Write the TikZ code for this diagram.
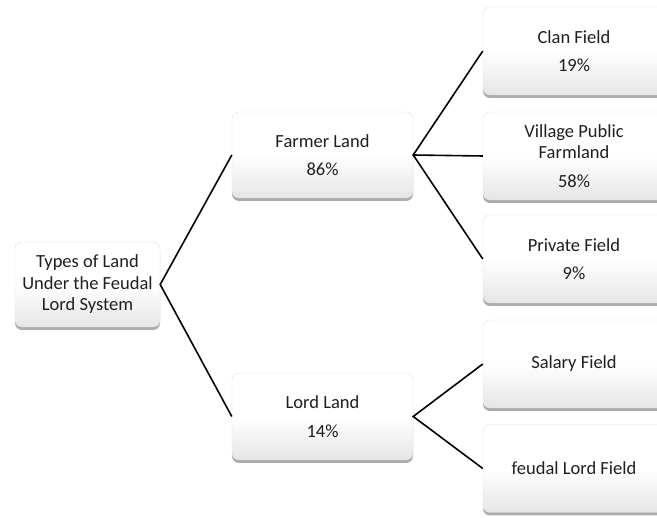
\documentclass[tikz,border=0pt]{standalone}
\usepackage{fontspec}
\setmainfont{Carlito}
\usetikzlibrary{shadows}
\begin{document}
\begin{tikzpicture}[x=1pt,y=-1pt,
  box/.style={rounded corners=7pt, draw=black!12, line width=0.4pt,
    top color=white, bottom color=black!10, middle color=white,
    drop shadow={shadow xshift=0pt, shadow yshift=-3pt, opacity=0.5, fill=black!65},
    align=center, font=\fontsize{18.5}{21.5}\selectfont, text=black!88,
    inner sep=0pt},
  link/.style={line width=1.6pt, black}]
\useasboundingbox (0,0) rectangle (657,518);
\node[box, minimum width=145pt, minimum height=85pt] (root) at (87.5,284.5) {Types of Land\\Under the Feudal\\Lord System};
\node[box, minimum width=181pt, minimum height=86pt] (farmer) at (322.5,155) {Farmer Land\\[7pt]86\%};
\node[box, minimum width=181pt, minimum height=87pt] (lord) at (322.5,416.5) {Lord Land\\[7pt]14\%};
\node[box, minimum width=182pt, minimum height=88pt] (clan) at (574,51) {Clan Field\\[7pt]19\%};
\node[box, minimum width=182pt, minimum height=88pt] (village) at (574,156) {Village Public\\Farmland\\[7pt]58\%};
\node[box, minimum width=182pt, minimum height=88pt] (private) at (574,259) {Private Field\\[7pt]9\%};
\node[box, minimum width=182pt, minimum height=88pt] (salary) at (574,364) {Salary Field};
\node[box, minimum width=182pt, minimum height=88pt] (feudal) at (574,468.5) {feudal Lord Field};
\draw[link] (farmer.west) -- (root.east) -- (lord.west);
\draw[link] (clan.west) -- (farmer.east) -- (private.west);
\draw[link] (farmer.east) -- (village.west);
\draw[link] (salary.west) -- (lord.east) -- (feudal.west);
\end{tikzpicture}
\end{document}
